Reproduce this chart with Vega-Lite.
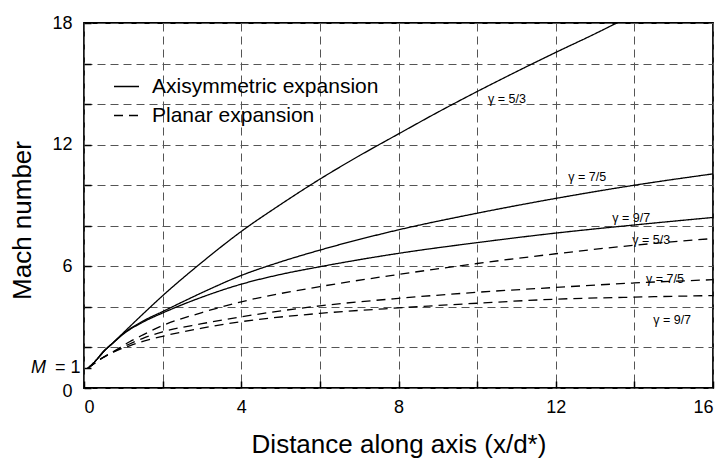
{
  "$schema": "https://vega.github.io/schema/vega-lite/v6.json",
  "width": 629,
  "height": 365,
  "autosize": {"type": "none"},
  "padding": {"left": 84, "top": 23, "right": 11, "bottom": 71},
  "background": "white",
  "config": {
    "font": "Liberation Sans",
    "view": {"stroke": "#000", "strokeWidth": 1.8},
    "axis": {
      "domain": false,
      "labelColor": "#000",
      "labelFontSize": 18,
      "titleColor": "#000",
      "titleFontSize": 26,
      "titleFontWeight": "normal",
      "tickColor": "#000",
      "tickWidth": 1.5,
      "tickSize": -7,
      "grid": true,
      "gridColor": "#555",
      "gridDash": [8, 5],
      "gridWidth": 1
    }
  },
  "datasets": {
    "curves": [
      {"x": 0.1, "M": 0.97, "series": "A53", "type": "Axisymmetric expansion"},
      {"x": 0.3, "M": 1.35, "series": "A53", "type": "Axisymmetric expansion"},
      {"x": 0.5, "M": 1.8, "series": "A53", "type": "Axisymmetric expansion"},
      {"x": 0.75, "M": 2.25, "series": "A53", "type": "Axisymmetric expansion"},
      {"x": 1.0, "M": 2.72, "series": "A53", "type": "Axisymmetric expansion"},
      {"x": 1.5, "M": 3.65, "series": "A53", "type": "Axisymmetric expansion"},
      {"x": 2, "M": 4.55, "series": "A53", "type": "Axisymmetric expansion"},
      {"x": 3, "M": 6.2, "series": "A53", "type": "Axisymmetric expansion"},
      {"x": 4, "M": 7.72, "series": "A53", "type": "Axisymmetric expansion"},
      {"x": 5, "M": 9.05, "series": "A53", "type": "Axisymmetric expansion"},
      {"x": 6, "M": 10.3, "series": "A53", "type": "Axisymmetric expansion"},
      {"x": 7, "M": 11.45, "series": "A53", "type": "Axisymmetric expansion"},
      {"x": 8, "M": 12.53, "series": "A53", "type": "Axisymmetric expansion"},
      {"x": 9, "M": 13.6, "series": "A53", "type": "Axisymmetric expansion"},
      {"x": 10, "M": 14.62, "series": "A53", "type": "Axisymmetric expansion"},
      {"x": 11, "M": 15.6, "series": "A53", "type": "Axisymmetric expansion"},
      {"x": 12, "M": 16.55, "series": "A53", "type": "Axisymmetric expansion"},
      {"x": 13, "M": 17.47, "series": "A53", "type": "Axisymmetric expansion"},
      {"x": 13.55, "M": 18.0, "series": "A53", "type": "Axisymmetric expansion"},

      {"x": 0.1, "M": 0.97, "series": "A75", "type": "Axisymmetric expansion"},
      {"x": 0.3, "M": 1.35, "series": "A75", "type": "Axisymmetric expansion"},
      {"x": 0.5, "M": 1.8, "series": "A75", "type": "Axisymmetric expansion"},
      {"x": 0.75, "M": 2.25, "series": "A75", "type": "Axisymmetric expansion"},
      {"x": 1.0, "M": 2.68, "series": "A75", "type": "Axisymmetric expansion"},
      {"x": 1.5, "M": 3.3, "series": "A75", "type": "Axisymmetric expansion"},
      {"x": 2, "M": 3.77, "series": "A75", "type": "Axisymmetric expansion"},
      {"x": 3, "M": 4.7, "series": "A75", "type": "Axisymmetric expansion"},
      {"x": 4, "M": 5.55, "series": "A75", "type": "Axisymmetric expansion"},
      {"x": 5, "M": 6.22, "series": "A75", "type": "Axisymmetric expansion"},
      {"x": 6, "M": 6.8, "series": "A75", "type": "Axisymmetric expansion"},
      {"x": 8, "M": 7.8, "series": "A75", "type": "Axisymmetric expansion"},
      {"x": 10, "M": 8.62, "series": "A75", "type": "Axisymmetric expansion"},
      {"x": 12, "M": 9.35, "series": "A75", "type": "Axisymmetric expansion"},
      {"x": 14, "M": 10.0, "series": "A75", "type": "Axisymmetric expansion"},
      {"x": 16, "M": 10.56, "series": "A75", "type": "Axisymmetric expansion"},

      {"x": 0.1, "M": 0.97, "series": "A97", "type": "Axisymmetric expansion"},
      {"x": 0.3, "M": 1.35, "series": "A97", "type": "Axisymmetric expansion"},
      {"x": 0.5, "M": 1.8, "series": "A97", "type": "Axisymmetric expansion"},
      {"x": 0.75, "M": 2.24, "series": "A97", "type": "Axisymmetric expansion"},
      {"x": 1.0, "M": 2.66, "series": "A97", "type": "Axisymmetric expansion"},
      {"x": 1.5, "M": 3.25, "series": "A97", "type": "Axisymmetric expansion"},
      {"x": 2, "M": 3.7, "series": "A97", "type": "Axisymmetric expansion"},
      {"x": 3, "M": 4.48, "series": "A97", "type": "Axisymmetric expansion"},
      {"x": 4, "M": 5.12, "series": "A97", "type": "Axisymmetric expansion"},
      {"x": 5, "M": 5.6, "series": "A97", "type": "Axisymmetric expansion"},
      {"x": 6, "M": 5.98, "series": "A97", "type": "Axisymmetric expansion"},
      {"x": 8, "M": 6.64, "series": "A97", "type": "Axisymmetric expansion"},
      {"x": 10, "M": 7.17, "series": "A97", "type": "Axisymmetric expansion"},
      {"x": 12, "M": 7.64, "series": "A97", "type": "Axisymmetric expansion"},
      {"x": 14, "M": 8.04, "series": "A97", "type": "Axisymmetric expansion"},
      {"x": 16, "M": 8.41, "series": "A97", "type": "Axisymmetric expansion"},

      {"x": 0.1, "M": 0.97, "series": "P53", "type": "Planar expansion"},
      {"x": 0.46, "M": 1.48, "series": "P53", "type": "Planar expansion"},
      {"x": 0.75, "M": 1.8, "series": "P53", "type": "Planar expansion"},
      {"x": 1.16, "M": 2.28, "series": "P53", "type": "Planar expansion"},
      {"x": 1.5, "M": 2.62, "series": "P53", "type": "Planar expansion"},
      {"x": 2, "M": 3.08, "series": "P53", "type": "Planar expansion"},
      {"x": 3, "M": 3.72, "series": "P53", "type": "Planar expansion"},
      {"x": 4, "M": 4.25, "series": "P53", "type": "Planar expansion"},
      {"x": 6, "M": 5.0, "series": "P53", "type": "Planar expansion"},
      {"x": 8, "M": 5.6, "series": "P53", "type": "Planar expansion"},
      {"x": 10, "M": 6.14, "series": "P53", "type": "Planar expansion"},
      {"x": 12, "M": 6.62, "series": "P53", "type": "Planar expansion"},
      {"x": 14, "M": 7.04, "series": "P53", "type": "Planar expansion"},
      {"x": 16, "M": 7.37, "series": "P53", "type": "Planar expansion"},

      {"x": 0.1, "M": 0.97, "series": "P75", "type": "Planar expansion"},
      {"x": 0.46, "M": 1.48, "series": "P75", "type": "Planar expansion"},
      {"x": 0.75, "M": 1.79, "series": "P75", "type": "Planar expansion"},
      {"x": 1.16, "M": 2.17, "series": "P75", "type": "Planar expansion"},
      {"x": 1.5, "M": 2.45, "series": "P75", "type": "Planar expansion"},
      {"x": 2, "M": 2.77, "series": "P75", "type": "Planar expansion"},
      {"x": 3, "M": 3.17, "series": "P75", "type": "Planar expansion"},
      {"x": 4, "M": 3.51, "series": "P75", "type": "Planar expansion"},
      {"x": 6, "M": 4.05, "series": "P75", "type": "Planar expansion"},
      {"x": 8, "M": 4.42, "series": "P75", "type": "Planar expansion"},
      {"x": 10, "M": 4.72, "series": "P75", "type": "Planar expansion"},
      {"x": 12, "M": 4.96, "series": "P75", "type": "Planar expansion"},
      {"x": 14, "M": 5.18, "series": "P75", "type": "Planar expansion"},
      {"x": 16, "M": 5.34, "series": "P75", "type": "Planar expansion"},

      {"x": 0.1, "M": 0.97, "series": "P97", "type": "Planar expansion"},
      {"x": 0.46, "M": 1.47, "series": "P97", "type": "Planar expansion"},
      {"x": 0.75, "M": 1.77, "series": "P97", "type": "Planar expansion"},
      {"x": 1.16, "M": 2.08, "series": "P97", "type": "Planar expansion"},
      {"x": 1.5, "M": 2.3, "series": "P97", "type": "Planar expansion"},
      {"x": 2, "M": 2.55, "series": "P97", "type": "Planar expansion"},
      {"x": 3, "M": 2.95, "series": "P97", "type": "Planar expansion"},
      {"x": 4, "M": 3.27, "series": "P97", "type": "Planar expansion"},
      {"x": 6, "M": 3.68, "series": "P97", "type": "Planar expansion"},
      {"x": 8, "M": 3.95, "series": "P97", "type": "Planar expansion"},
      {"x": 10, "M": 4.18, "series": "P97", "type": "Planar expansion"},
      {"x": 12, "M": 4.38, "series": "P97", "type": "Planar expansion"},
      {"x": 14, "M": 4.48, "series": "P97", "type": "Planar expansion"},
      {"x": 16, "M": 4.56, "series": "P97", "type": "Planar expansion"}
    ],
    "labels": [
      {"x": 10.76, "M": 14.24, "label": "γ = 5/3"},
      {"x": 12.8, "M": 10.4, "label": "γ = 7/5"},
      {"x": 13.92, "M": 8.37, "label": "γ = 9/7"},
      {"x": 14.43, "M": 7.29, "label": "γ = 5/3"},
      {"x": 14.78, "M": 5.37, "label": "γ = 7/5"},
      {"x": 14.96, "M": 3.35, "label": "γ = 9/7"}
    ],
    "mlabel": [
      {"x": 0, "M": 1, "label": "M"}
    ]
  },
  "layer": [
    {
      "data": {"name": "curves"},
      "mark": {"type": "line", "color": "#000", "strokeWidth": 1.3, "interpolate": "monotone"},
      "encoding": {
        "x": {
          "field": "x", "type": "quantitative",
          "scale": {"domain": [0, 16], "nice": false, "zero": false},
          "axis": {
            "values": [0, 2, 4, 6, 8, 10, 12, 14, 16],
            "tickCount": 40,
            "format": "d",
            "labelExpr": "datum.value % 4 == 0 ? datum.label : ''",
            "labelPadding": 17,
            "title": "Distance along axis (x/d*)",
            "titleY": 64,
            "titleBaseline": "alphabetic"
          }
        },
        "y": {
          "field": "M", "type": "quantitative",
          "scale": {"domain": [0, 18], "nice": false},
          "axis": {
            "values": [0, 1, 2, 4, 6, 8, 10, 12, 14, 16, 18],
            "tickCount": 40,
            "format": "d",
            "labelOverlap": false,
            "labelExpr": "datum.value == 1 ? '= 1' : (datum.value % 6 == 0 ? datum.label : '')",
            "labelPadding": {"condition": {"test": "datum.value == 1", "value": 11}, "value": 19},
            "labelOffset": {"condition": {"test": "datum.value == 0", "value": 3}, "value": 0},
            "gridOpacity": {"condition": {"test": "datum.value == 1", "value": 0}, "value": 1},
            "title": "Mach number",
            "titleX": -62,
            "titleY": 197,
            "titleAngle": -90,
            "titleBaseline": "middle"
          }
        },
        "detail": {"field": "series", "type": "nominal"},
        "strokeDash": {
          "field": "type", "type": "nominal",
          "scale": {"domain": ["Axisymmetric expansion", "Planar expansion"], "range": [[1, 0], [9, 6]]},
          "legend": {
            "orient": "none",
            "legendX": 29,
            "legendY": 50,
            "title": null,
            "padding": 0,
            "symbolType": "stroke",
            "symbolSize": 625,
            "symbolStrokeColor": "#000",
            "symbolStrokeWidth": 1.3,
            "labelFontSize": 21,
            "labelColor": "#000",
            "labelLimit": 400,
            "labelOffset": 12,
            "rowPadding": 5
          }
        }
      }
    },
    {
      "data": {"name": "labels"},
      "mark": {"type": "text", "fontSize": 12.5, "color": "#000", "align": "center", "baseline": "middle"},
      "encoding": {
        "x": {"field": "x", "type": "quantitative"},
        "y": {"field": "M", "type": "quantitative"},
        "text": {"field": "label", "type": "nominal"}
      }
    },
    {
      "data": {"name": "mlabel"},
      "mark": {"type": "text", "fontSize": 18, "fontStyle": "italic", "color": "#000", "align": "right", "baseline": "middle", "dx": -38, "dy": 0},
      "encoding": {
        "x": {"field": "x", "type": "quantitative"},
        "y": {"field": "M", "type": "quantitative"},
        "text": {"field": "label", "type": "nominal"}
      }
    }
  ]
}
